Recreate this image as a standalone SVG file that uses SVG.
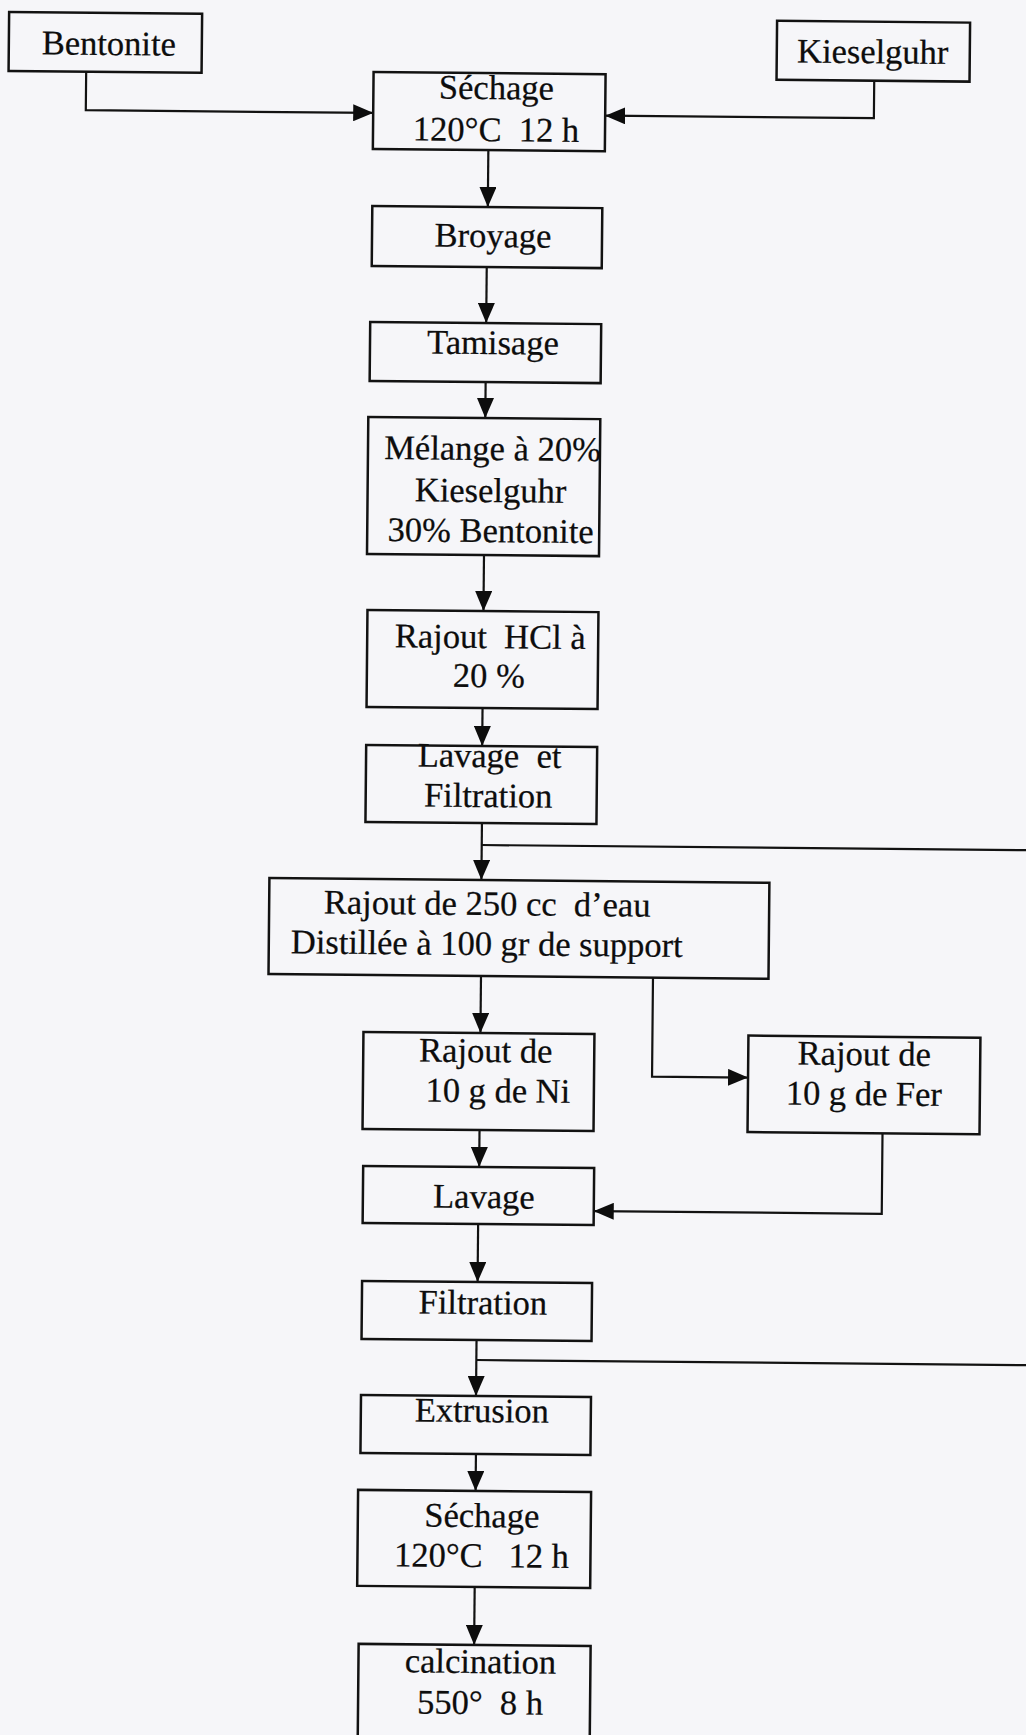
<svg xmlns="http://www.w3.org/2000/svg" width="1026" height="1735" viewBox="0 0 1026 1735">
<style>
.box{fill:none;stroke:#121212;stroke-width:2.5}
.t{font-family:"Liberation Serif","Times New Roman",serif;font-size:34.5px;fill:#0d0d0d;stroke:#0d0d0d;stroke-width:0.25;text-anchor:middle;white-space:pre}
.c{fill:none;stroke:#121212;stroke-width:2.2}
</style>
<defs>
<marker id="ah" markerUnits="userSpaceOnUse" markerWidth="20" markerHeight="17" refX="20" refY="8.5" orient="auto">
<path d="M0,0 L20,8.5 L0,17 z" fill="#0d0d0d"/>
</marker>
</defs>
<rect x="0" y="0" width="1026" height="1735" fill="#f6f6f9"/>
<g transform="rotate(0.545 480 870)">
<g id="connectors">
<path class="c" d="M78.6 75.5 V114 H366" marker-end="url(#ah)"/>
<path class="c" d="M866.7 77 V114.5 H598" marker-end="url(#ah)"/>
<path class="c" d="M481.5 150 V207" marker-end="url(#ah)"/>
<path class="c" d="M481 267 V323" marker-end="url(#ah)"/>
<path class="c" d="M481 382 V418" marker-end="url(#ah)"/>
<path class="c" d="M481 555 V611" marker-end="url(#ah)"/>
<path class="c" d="M481 708 V746" marker-end="url(#ah)"/>
<path class="c" d="M481.5 823 V880" marker-end="url(#ah)"/>
<path class="c" d="M481.5 845 H1050"/>
<path class="c" d="M482 976 V1033" marker-end="url(#ah)"/>
<path class="c" d="M654 976 V1075 H750" marker-end="url(#ah)"/>
<path class="c" d="M482 1130 V1167" marker-end="url(#ah)"/>
<path class="c" d="M885 1129.5 V1210 H597" marker-end="url(#ah)"/>
<path class="c" d="M481.5 1224 V1282" marker-end="url(#ah)"/>
<path class="c" d="M481 1340 V1396" marker-end="url(#ah)"/>
<path class="c" d="M481 1360 H1050"/>
<path class="c" d="M481.5 1454 V1491" marker-end="url(#ah)"/>
<path class="c" d="M481.5 1587 V1645" marker-end="url(#ah)"/>
</g>
<g id="bentonite"><rect class="box" x="1" y="16.5" width="193" height="59"/><text class="t" x="101" y="58.5">Bentonite</text></g>
<g id="kieselguhr"><rect class="box" x="769" y="18" width="193" height="59"/><text class="t" x="865" y="59.5">Kieselguhr</text></g>
<g id="sechage1"><rect class="box" x="366" y="73" width="232" height="77"/><text class="t" x="489" y="99">Séchage</text><text class="t" x="489" y="141">120°C  12 h</text></g>
<g id="broyage"><rect class="box" x="366" y="207" width="230" height="60"/><text class="t" x="487" y="247">Broyage</text></g>
<g id="tamisage"><rect class="box" x="365" y="323" width="231" height="59"/><text class="t" x="488" y="354">Tamisage</text></g>
<g id="melange"><rect class="box" x="364" y="418" width="232" height="137"/><text class="t" x="488.5" y="460">Mélange à 20%</text><text class="t" x="487" y="502">Kieselguhr</text><text class="t" x="487.5" y="542">30% Bentonite</text></g>
<g id="hcl"><rect class="box" x="365" y="611" width="231" height="97"/><text class="t" x="488" y="648">Rajout  HCl à</text><text class="t" x="487" y="687">20 %</text></g>
<g id="lavage-filtration"><rect class="box" x="365" y="746" width="231" height="77"/><text class="t" x="488.5" y="767">Lavage  et</text><text class="t" x="487.5" y="807">Filtration</text></g>
<g id="rajout-eau"><rect class="box" x="269.5" y="880" width="500" height="96"/><text class="t" x="487.5" y="915">Rajout de 250 cc  d’eau</text><text class="t" x="487.5" y="955">Distillée à 100 gr de support</text></g>
<g id="rajout-ni"><rect class="box" x="365" y="1033" width="231" height="97"/><text class="t" x="487.5" y="1062">Rajout de</text><text class="t" x="500" y="1102">10 g de Ni</text></g>
<g id="rajout-fer"><rect class="box" x="750" y="1033" width="232" height="96.5"/><text class="t" x="866" y="1061.5">Rajout de</text><text class="t" x="866" y="1101.5">10 g de Fer</text></g>
<g id="lavage"><rect class="box" x="366" y="1167" width="231" height="57"/><text class="t" x="487" y="1208">Lavage</text></g>
<g id="filtration"><rect class="box" x="366" y="1282" width="230" height="58"/><text class="t" x="487" y="1314">Filtration</text></g>
<g id="extrusion"><rect class="box" x="366" y="1396" width="230" height="58"/><text class="t" x="487" y="1422">Extrusion</text></g>
<g id="sechage2"><rect class="box" x="364" y="1491" width="233" height="96"/><text class="t" x="488" y="1527">Séchage</text><text class="t" x="488" y="1567">120°C   12 h</text></g>
<g id="calcination"><rect class="box" x="366" y="1645" width="232" height="130"/><text class="t" x="488" y="1673">calcination</text><text class="t" x="488" y="1714">550°  8 h</text></g>
</g>
</svg>
